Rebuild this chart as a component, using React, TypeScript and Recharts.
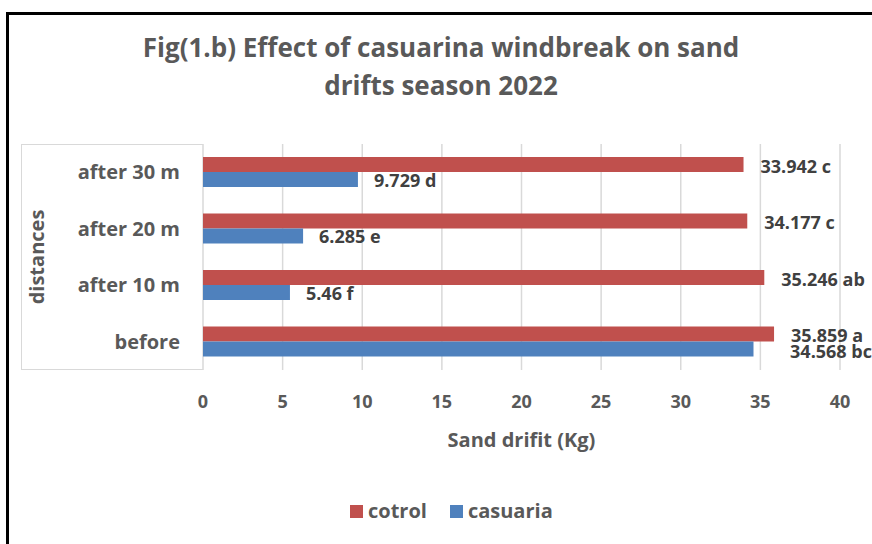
import React from 'react';
import { BarChart, Bar, XAxis, YAxis, CartesianGrid, LabelList } from 'recharts';

const distances = ['after 30 m', 'after 20 m', 'after 10 m', 'before'];
const cotrol = [33.942, 34.177, 35.246, 35.859];
const casuaria = [9.729, 6.285, 5.46, 34.568];
const cotrolLetters = ['c', 'c', 'ab', 'a'];
const casuariaLetters = ['d', 'e', 'f', 'bc'];
const xTicks = [0, 5, 10, 15, 20, 25, 30, 35, 40];
const seriesNames = ['cotrol', 'casuaria'];
const seriesColors = ['#C0504D', '#4F81BD'];

const data = distances.map((d, i) => ({ distance: d, cotrol: cotrol[i], casuaria: casuaria[i] }));

const FONT = '"Open Sans", sans-serif';
const GREY = '#595959';

const labelText = { fontFamily: FONT, fontWeight: 700, fontSize: 18, fill: '#404040' };

const CotrolLabel = (props: any) => {
  const { x, y, width, height, index } = props;
  return (
    <text x={x + width + 17} y={y + height / 2 + 8} {...labelText}>
      {`${cotrol[index]} ${cotrolLetters[index]}`}
    </text>
  );
};

// excel pushes the blue label past the red one when they'd overlap
const CasuariaLabel = (props: any) => {
  const { x, y, width, height, index } = props;
  const perUnit = width / casuaria[index];
  const redEnd = x + cotrol[index] * perUnit;
  const close = cotrol[index] - casuaria[index] < 5;
  const end = close ? redEnd : x + width;
  return (
    <text x={end + 16} y={y + height / 2 + (close ? 9 : 7)} {...labelText}>
      {`${casuaria[index]} ${casuariaLetters[index]}`}
    </text>
  );
};

export default function App() {
  return (
    <div style={{ position: 'absolute', left: 0, top: 0, width: 872, height: 544, overflow: 'hidden', background: '#fff', fontFamily: FONT }}>
      <div style={{ position: 'absolute', left: 6, top: 12, width: 900, height: 600, borderLeft: '3px solid #000', borderTop: '3px solid #000' }} />
      <div style={{ position: 'absolute', left: 41, top: 28, width: 800, textAlign: 'center', color: GREY, fontWeight: 700, fontSize: 26, lineHeight: '38px' }}>
        <div>Fig(1.b) Effect of casuarina windbreak on sand</div>
        <div>drifts season 2022</div>
      </div>
      <div style={{ position: 'absolute', left: 21, top: 144, width: 182, height: 226, border: '1px solid #D9D9D9', borderRight: 'none', boxSizing: 'border-box' }} />
      <div style={{ position: 'absolute', left: 0, top: 0 }}>
        <BarChart
          width={872}
          height={544}
          data={data}
          layout="vertical"
          margin={{ top: 144, right: 32, bottom: 94, left: 21 }}
          barGap={0}
          barSize={15}
        >
          <CartesianGrid horizontal={false} stroke="#D9D9D9" strokeWidth={1.5} />
          <XAxis
            type="number"
            domain={[0, 40]}
            ticks={xTicks}
            height={80}
            axisLine={false}
            tickLine={false}
            tickSize={0}
            tickMargin={25}
            tick={{ fill: GREY, fontSize: 18, fontWeight: 700, fontFamily: FONT }}
            label={{ value: 'Sand drifit (Kg)', position: 'insideTop', offset: 63, fill: GREY, fontSize: 20, fontWeight: 700, fontFamily: FONT }}
          />
          <YAxis
            type="category"
            dataKey="distance"
            width={182}
            axisLine={false}
            tickLine={false}
            tickSize={0}
            tickMargin={23}
            tick={{ fill: GREY, fontSize: 20, fontWeight: 700, fontFamily: FONT }}
            label={{ value: 'distances', angle: -90, position: 'insideLeft', offset: 16, fill: GREY, fontSize: 20, fontWeight: 700, fontFamily: FONT, style: { textAnchor: 'middle' } }}
          />
          <Bar dataKey="cotrol" fill={seriesColors[0]} isAnimationActive={false}>
            <LabelList dataKey="cotrol" content={CotrolLabel} />
          </Bar>
          <Bar dataKey="casuaria" fill={seriesColors[1]} isAnimationActive={false}>
            <LabelList dataKey="casuaria" content={CasuariaLabel} />
          </Bar>
        </BarChart>
      </div>
      <div style={{ position: 'absolute', left: 350, top: 497, display: 'flex', alignItems: 'center', color: GREY, fontWeight: 700, fontSize: 20, lineHeight: '28px' }}>
        {seriesNames.map((name, i) => (
          <div key={name} style={{ display: 'flex', alignItems: 'center', marginRight: 23 }}>
            <span style={{ display: 'inline-block', width: 13, height: 13, background: seriesColors[i], marginRight: 5 }} />
            <span>{name}</span>
          </div>
        ))}
      </div>
    </div>
  );
}
